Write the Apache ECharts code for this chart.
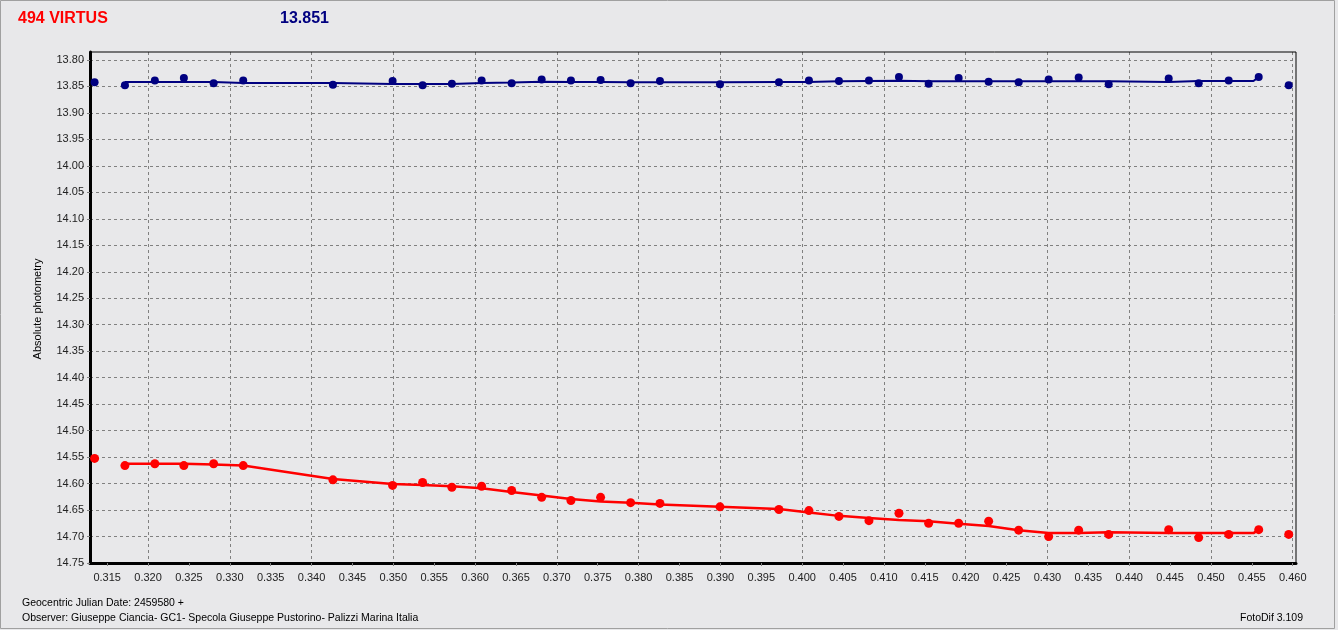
<!DOCTYPE html>
<html>
<head>
<meta charset="utf-8">
<script src="https://cdn.jsdelivr.net/npm/echarts@6/dist/echarts.min.js"></script>
<style>
html,body{margin:0;padding:0;background:#e8e8ea;}
#chart{width:1338px;height:630px;}
</style>
</head>
<body>
<div id="chart"></div>
<script>
// ---- data ----
const timeX = [0.31346,0.31717,0.32083,0.32438,0.32802,0.33164,0.34261,0.34991,0.35358,0.35716,0.36080,0.36447,0.36814,0.37172,0.37535,0.37902,0.38261,0.38995,0.39716,0.40083,0.40450,0.40817,0.41184,0.41547,0.41914,0.42281,0.42648,0.43015,0.43382,0.43749,0.44483,0.44850,0.45217,0.45584,0.45951];
const blueMag = [13.842,13.848,13.839,13.834,13.844,13.839,13.847,13.840,13.848,13.845,13.839,13.844,13.837,13.839,13.838,13.844,13.840,13.846,13.842,13.839,13.840,13.839,13.832,13.845,13.834,13.841,13.842,13.837,13.833,13.846,13.835,13.844,13.839,13.832,13.848];
const redMag = [14.5525,14.566,14.5625,14.566,14.5625,14.566,14.593,14.6035,14.598,14.607,14.605,14.613,14.626,14.632,14.626,14.636,14.6375,14.644,14.649,14.651,14.662,14.670,14.656,14.675,14.675,14.671,14.688,14.700,14.688,14.696,14.687,14.702,14.696,14.687,14.696];
const lineX = [0.31717,0.32083,0.32438,0.32802,0.33164,0.34261,0.34991,0.35358,0.35716,0.36080,0.36447,0.36814,0.37172,0.37535,0.37902,0.38261,0.38995,0.39716,0.40083,0.40450,0.40817,0.41184,0.41547,0.41914,0.42281,0.42648,0.43015,0.43382,0.43749,0.44483,0.44850,0.45217,0.45520,0.45584];
const blueLine = [13.8416,13.8416,13.8416,13.8418,13.8434,13.8434,13.8453,13.8453,13.8453,13.8434,13.8428,13.8410,13.8416,13.8416,13.8420,13.8420,13.8423,13.8416,13.8416,13.8404,13.8397,13.8391,13.8404,13.8404,13.8404,13.8404,13.8404,13.8404,13.8404,13.8416,13.8397,13.8397,13.8397,13.8320];
const redLine = [14.5625,14.5625,14.5625,14.564,14.566,14.5914,14.601,14.6025,14.605,14.609,14.616,14.6225,14.629,14.634,14.636,14.6395,14.644,14.648,14.6545,14.661,14.665,14.669,14.671,14.676,14.680,14.688,14.6935,14.6935,14.692,14.6935,14.6935,14.6935,14.6935,14.687];
const xTicks = [0.315,0.320,0.325,0.330,0.335,0.340,0.345,0.350,0.355,0.360,0.365,0.370,0.375,0.380,0.385,0.390,0.395,0.400,0.405,0.410,0.415,0.420,0.425,0.430,0.435,0.440,0.445,0.450,0.455,0.460];
const yTicks = [13.80,13.85,13.90,13.95,14.00,14.05,14.10,14.15,14.20,14.25,14.30,14.35,14.40,14.45,14.50,14.55,14.60,14.65,14.70,14.75];
const titleName = '494 VIRTUS';
const titleMag = '13.851';
const yName = 'Absolute photometry';
const footer1 = 'Geocentric Julian Date: 2459580 +';
const footer2 = 'Observer: Giuseppe Ciancia- GC1- Specola Giuseppe Pustorino- Palizzi Marina Italia';
const version = 'FotoDif 3.109';

const zip = (xs, ys) => xs.map((x, i) => [x, ys[i]]);
const FONT = 'Liberation Sans, Arial, sans-serif';
const BLUE = '#000080', RED = '#ff0000';
const GRIDLINE = {color: '#808080', type: [3, 3], width: 1};

const gridMarks = xTicks.map(v => ({xAxis: v})).concat(yTicks.map(v => ({yAxis: v})));

const chart = echarts.init(document.getElementById('chart'));
chart.setOption({
  animation: false,
  backgroundColor: '#e8e8ea',
  title: [
    {text: titleName, left: 13, top: 6, textStyle: {color: RED, fontSize: 16, fontWeight: 'bold', fontFamily: FONT}},
    {text: titleMag, left: 275, top: 6, textStyle: {color: BLUE, fontSize: 16, fontWeight: 'bold', fontFamily: FONT}}
  ],
  grid: {left: 90, right: 42, top: 52, bottom: 67, show: true, borderColor: '#000', borderWidth: 1, backgroundColor: 'transparent', z: 2},
  xAxis: {
    type: 'value', min: 0.3129, max: 0.4604, z: 3,
    axisLine: {onZero: false, lineStyle: {color: '#000', width: 3}},
    axisTick: {show: true, customValues: xTicks, length: 6, lineStyle: {color: '#808080', type: [3, 3]}},
    axisLabel: {customValues: xTicks, formatter: v => v.toFixed(3), color: '#222', fontSize: 11, fontFamily: FONT, margin: 9},
    splitLine: {show: false}
  },
  yAxis: {
    type: 'value', inverse: true, min: 13.785, max: 14.75, z: 3,
    axisLine: {show: true, onZero: false, lineStyle: {color: '#000', width: 3}},
    axisTick: {show: true, customValues: yTicks, length: 8, lineStyle: {color: '#808080', type: [3, 3]}},
    axisLabel: {customValues: yTicks, formatter: v => v.toFixed(2), color: '#222', fontSize: 11, fontFamily: FONT, margin: 6},
    splitLine: {show: false}
  },
  graphic: [
    {type: 'rect', shape: {x: 0.5, y: 0.5, width: 1334, height: 628}, style: {fill: 'none', stroke: '#a0a0a0', lineWidth: 1}, silent: true},
    {type: 'text', x: 38, y: 309, rotation: Math.PI / 2, style: {text: yName, fill: '#000', font: '11px ' + FONT, textAlign: 'center', textVerticalAlign: 'middle'}},
    {type: 'text', x: 22, y: 603, style: {text: footer1, fill: '#000', font: '10.5px ' + FONT, textVerticalAlign: 'middle'}},
    {type: 'text', x: 22, y: 618, style: {text: footer2, fill: '#000', font: '10.5px ' + FONT, textVerticalAlign: 'middle'}},
    {type: 'text', x: 1303, y: 618, style: {text: version, fill: '#000', font: '10.5px ' + FONT, textAlign: 'right', textVerticalAlign: 'middle'}}
  ],
  series: [
    {type: 'line', data: [], z: 1, silent: true,
     markLine: {z: 1, silent: true, symbol: ['none', 'none'], label: {show: false}, lineStyle: GRIDLINE, emphasis: {disabled: true}, animation: false, data: gridMarks}},
    {type: 'line', data: zip(lineX, blueLine), showSymbol: false, lineStyle: {color: BLUE, width: 2}, z: 4},
    {type: 'scatter', data: zip(timeX, blueMag), symbol: 'circle', symbolSize: 8, itemStyle: {color: BLUE, opacity: 1}, z: 5},
    {type: 'line', data: zip(lineX, redLine), showSymbol: false, lineStyle: {color: RED, width: 2.5}, z: 4},
    {type: 'scatter', data: zip(timeX, redMag), symbol: 'circle', symbolSize: 9, itemStyle: {color: RED, opacity: 1}, z: 5}
  ]
});
</script>
</body>
</html>
